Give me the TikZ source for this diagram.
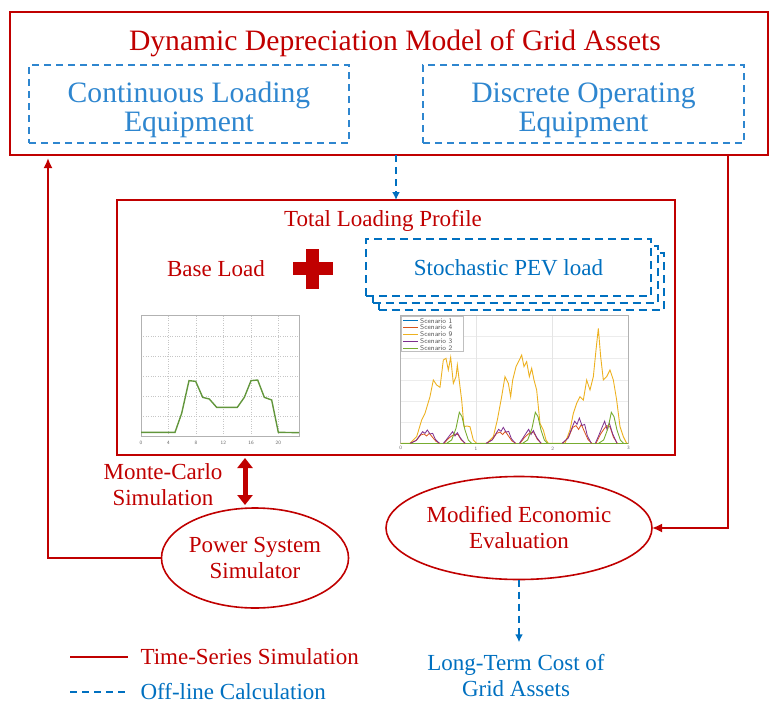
\documentclass[tikz,border=0pt]{standalone}
\usepackage{fontspec}
\setmainfont{Liberation Serif}
\usetikzlibrary{arrows.meta,shapes.geometric,positioning}
\definecolor{gridred}{RGB}{192,0,0}
\definecolor{gridblue}{RGB}{0,112,192}
\definecolor{lightblue}{RGB}{46,134,207}
\definecolor{scyellow}{RGB}{237,177,32}
\definecolor{scgreen}{RGB}{119,172,48}
\definecolor{scpurple}{RGB}{126,47,142}
\definecolor{scorange}{RGB}{217,83,25}
\definecolor{scblue}{RGB}{0,114,189}
\definecolor{basegreen}{RGB}{98,150,60}
\tikzset{
  redbox/.style={draw=gridred, line width=1.8pt, inner sep=0pt, outer sep=0pt},
  bluebox/.style={draw=lightblue, line width=1.6pt, dash pattern=on 7pt off 5pt, inner sep=0pt, outer sep=0pt},
  pevbox/.style={draw=gridblue, fill=white, line width=2pt, dash pattern=on 8pt off 5pt, inner sep=0pt, outer sep=0pt},
  redoval/.style={ellipse, draw=gridred, line width=1.6pt, inner sep=0pt, outer sep=0pt},
  bigred/.style={text=gridred, font=\fontsize{29.6}{31}\selectfont, align=center},
  bigblue/.style={text=lightblue, font=\fontsize{29.6}{29}\selectfont, align=center},
  redtext/.style={text=gridred, font=\fontsize{23}{26}\selectfont, align=center},
  bluetext/.style={text=gridblue, font=\fontsize{23}{26}\selectfont, align=center},
  timeseries/.style={draw=gridred, line width=1.8pt},
  offline/.style={draw=gridblue, line width=1.8pt, dash pattern=on 7pt off 5pt},
  redtip/.style={-{Latex[length=10pt,width=9pt]}},
  bluetip/.style={-{Latex[length=8pt,width=8pt]}},
  plotgrid/.style={draw=gray!45, line width=0.4pt, dotted},
  plotframe/.style={draw=gray!60, line width=0.8pt},
  ticklabel/.style={text=gray!80!black, font=\fontsize{5}{6}\sffamily, inner sep=0pt},
  legendtext/.style={text=gray!70!black, font=\fontsize{7}{8}\sffamily, inner sep=0pt}
}
\begin{document}
\begin{tikzpicture}[x=1pt, y=-1pt] %pixel grid, y downwards
\useasboundingbox (0,0) rectangle (769,704);
	%Top block
\node[redbox, minimum width=758pt, minimum height=143pt] (depmodel) at (389,83.5) {};
\node[bigred] (modeltitle) at (395,43) {Dynamic Depreciation Model of Grid Assets};
\node[bluebox, minimum width=320pt, minimum height=78pt] (contload) at (189,104) {};
\node[bluebox, minimum width=321pt, minimum height=78pt] (discop) at (583.5,104) {};
\node[bigblue, yshift=-6pt] (contloadtext) at (contload.center) {Continuous Loading\\Equipment};
\node[bigblue, yshift=-6pt] (discoptext) at (discop.center) {Discrete Operating\\Equipment};
	%Loading profile block
\node[redbox, minimum width=558pt, minimum height=255pt] (totalprof) at (396,327.5) {};
\node[redtext] (proftitle) at (383,221) {Total Loading Profile};
\node[redtext] (baseload) at (216,269) {Base Load};
\fill[gridred] (293,262) rectangle (333,275); %plus sign
\fill[gridred] (306,249) rectangle (319,289);
\node[pevbox, minimum width=285pt, minimum height=57pt] (pevback) at (521,281.5) {};
\node[pevbox, minimum width=285pt, minimum height=57pt] (pevmid) at (515,274.5) {};
\node[pevbox, minimum width=285pt, minimum height=57pt, bluetext] (pev) at (508.5,267.5) {Stochastic PEV load};
	%Base load curve
\begin{scope}[shift={(130,300)}, scale=1/3]
\foreach \gx in {115,198,280,363,445} \draw[plotgrid] (\gx,47) -- (\gx,410);
\foreach \gy in {110,170,230,290,350} \draw[plotgrid] (33,\gy) -- (507,\gy);
\draw[plotframe] (33,47) rectangle (507,410);
\draw[basegreen, line width=1.4pt] (33,397) -- (135,397) -- (155,340) -- (177,242) -- (197,244) -- (218,292) -- (238,297) -- (260,322) -- (322,322) -- (343,292) -- (363,242) -- (383,240) -- (403,292) -- (425,300) -- (445,397) -- (507,398);
\foreach \gx/\lab in {33/0,115/4,198/8,280/12,363/16,445/20} \node[ticklabel] (hour\lab) at (\gx,428) {\lab};
\end{scope}
	%PEV scenarios
\begin{scope}[shift={(380,300)}, scale=1/3]
\foreach \gy in {110,175,240,305,367} \draw[gray!15, line width=0.4pt] (62,\gy) -- (745,\gy);
\foreach \gx in {288,518} \draw[gray!20, line width=0.4pt] (\gx,45) -- (\gx,430);
\draw[plotframe] (62,45) rectangle (745,430);
\draw[scyellow, line width=0.9pt] (62,430) -- (90,430) -- (110,410) -- (125,360) -- (135,340) -- (150,290) -- (160,240) -- (170,255) -- (180,262) -- (190,180) -- (198,175) -- (205,210) -- (212,172) -- (220,250) -- (228,230) -- (232,195) -- (240,260) -- (245,300) -- (252,380) -- (260,378) -- (270,380) -- (280,420) -- (290,430) -- (320,430) -- (340,410) -- (352,360) -- (365,290) -- (375,230) -- (385,250) -- (392,290) -- (398,240) -- (408,200) -- (418,180) -- (425,165) -- (432,200) -- (440,185) -- (448,230) -- (455,205) -- (462,240) -- (470,270) -- (480,370) -- (490,390) -- (498,420) -- (505,430) -- (555,430) -- (570,390) -- (580,340) -- (590,310) -- (600,290) -- (610,300) -- (620,240) -- (630,270) -- (640,230) -- (648,150) -- (655,85) -- (662,170) -- (670,240) -- (680,230) -- (690,210) -- (700,240) -- (710,300) -- (720,380) -- (730,410) -- (740,430) -- (745,430);
\draw[scgreen, line width=0.9pt] (62,430) -- (745,430);
\foreach \d/\s in {0/1,228/1.2,456/1.9}
{
\begin{scope}[shift={(\d,430)}, yscale=\s]
\draw[scorange, line width=0.8pt] (92,0) -- (110,-10) -- (122,-25) -- (132,-28) -- (140,-22) -- (148,-30) -- (156,-20) -- (168,-6) -- (180,0);
\draw[scorange, line width=0.8pt] (192,0) -- (205,-14) -- (215,-22) -- (224,-28) -- (234,-26) -- (244,-10) -- (256,0);
\draw[scpurple, line width=0.8pt] (90,0) -- (108,-8) -- (118,-22) -- (128,-35) -- (135,-30) -- (142,-40) -- (150,-28) -- (158,-30) -- (166,-12) -- (178,0);
\draw[scpurple, line width=0.8pt] (190,0) -- (200,-12) -- (210,-25) -- (218,-35) -- (225,-22) -- (232,-32) -- (242,-15) -- (255,0);
\end{scope}
\draw[scgreen, line width=0.9pt] (\d+200,430) -- (\d+215,420) -- (\d+228,385) -- (\d+238,337) -- (\d+246,350) -- (\d+255,390) -- (\d+265,420) -- (\d+275,430);
}
\draw[fill=white, draw=gray!50, line width=0.4pt] (65,50) rectangle (250,155);
\foreach \ly/\lc/\ln in {62/scblue/1,82/scorange/4,102/scyellow/9,123/scpurple/3,145/scgreen/2}
{
\draw[\lc, line width=0.6pt] (70,\ly) -- (115,\ly);
\node[legendtext, anchor=west] (scen\ln) at (120,\ly) {Scenario \ln};
}
\foreach \gx/\lab in {62/0,288/1,518/2,745/3} \node[ticklabel] (day\lab) at (\gx,445) {\lab};
\end{scope}
	%Lower blocks
\node[redoval, minimum width=185pt, minimum height=100pt, redtext] (powersim) at (255,558) {Power System\\Simulator};
\node[redoval, minimum width=266pt, minimum height=103pt, redtext] (econeval) at (519,528) {Modified Economic\\Evaluation};
\node[redtext] (montecarlo) at (163,485) {Monte-Carlo\\Simulation};
\node[bluetext] (costout) at (516,676) {Long-Term Cost of\\Grid Assets};
	%Connectors
\coordinate (mctop) at (245,458);
\coordinate (mcbot) at (245,505);
\draw[gridred, line width=5pt, {Triangle[width=15pt,length=10pt]}-{Triangle[width=15pt,length=10pt]}] (mctop) -- (mcbot);
\coordinate (retup) at (48,158);
\coordinate (outdown) at (728,155);
\draw[timeseries, redtip] (powersim.west) -| (retup);
\draw[timeseries, redtip] (outdown) |- (econeval.east);
\draw[offline, bluetip] (depmodel.south -| totalprof.north) -- (totalprof.north);
\draw[offline, bluetip] (econeval.south) -- ([yshift=9pt]econeval.south |- costout.north);
	%Legend
\coordinate (legA) at (70,657);
\coordinate (legB) at (128,657);
\coordinate (legC) at (70,692);
\coordinate (legD) at (125,692);
\draw[timeseries] (legA) -- (legB);
\draw[offline] (legC) -- (legD);
\node[redtext, anchor=west] (tslabel) at (137,657) {Time-Series Simulation};
\node[bluetext, anchor=west] (oflabel) at (137,692) {Off-line Calculation};
\end{tikzpicture}
\end{document}
